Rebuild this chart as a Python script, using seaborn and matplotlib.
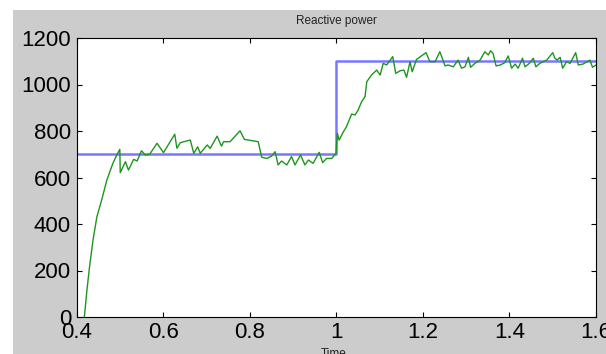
import numpy as np
import pandas as pd
import matplotlib
matplotlib.use("Agg")
import matplotlib.pyplot as plt
import seaborn as sns
from matplotlib.patches import Rectangle

# ---- data ----
ref_time = [0.4, 1.0, 1.0, 1.6]
ref_value = [700, 700, 1100, 1100]

meas_time = [
    0.417, 0.423, 0.429, 0.437, 0.446, 0.458, 0.469, 0.483, 0.492, 0.499,
    0.500, 0.512, 0.519, 0.531, 0.539, 0.549, 0.558, 0.568, 0.585, 0.600,
    0.626, 0.631, 0.639, 0.662, 0.670, 0.679, 0.685, 0.701, 0.708, 0.724,
    0.734, 0.739, 0.754, 0.777, 0.787, 0.819, 0.827, 0.839, 0.850, 0.858,
    0.865, 0.873, 0.885, 0.896, 0.904, 0.917, 0.927, 0.935, 0.946, 0.960,
    0.968, 0.977, 0.989, 0.999, 1.002, 1.006, 1.016, 1.023, 1.035, 1.043,
    1.050, 1.058, 1.066, 1.070, 1.081, 1.093, 1.101, 1.108, 1.116, 1.130,
    1.137, 1.147, 1.156, 1.162, 1.170, 1.175, 1.185, 1.207, 1.216, 1.228,
    1.239, 1.251, 1.258, 1.270, 1.281, 1.289, 1.297, 1.305, 1.310, 1.320,
    1.332, 1.343, 1.351, 1.356, 1.362, 1.369, 1.379, 1.389, 1.397, 1.405,
    1.413, 1.420, 1.430, 1.436, 1.446, 1.455, 1.461, 1.470, 1.486, 1.500,
    1.505, 1.510, 1.517, 1.523, 1.532, 1.540, 1.553, 1.559, 1.570, 1.586,
    1.592, 1.600,
]
meas_value = [
    0, 116, 216, 331, 431, 510, 589, 661, 697, 721,
    621, 668, 632, 678, 671, 715, 697, 700, 747, 707,
    786, 726, 750, 761, 704, 732, 704, 740, 725, 778,
    735, 754, 754, 801, 764, 754, 687, 682, 692, 711,
    654, 671, 654, 690, 654, 697, 654, 675, 661, 708,
    664, 682, 682, 704, 790, 761, 797, 818, 873, 869,
    890, 926, 948, 1012, 1041, 1062, 1041, 1091, 1084, 1120,
    1048, 1059, 1062, 1031, 1098, 1055, 1108, 1137, 1098, 1098,
    1141, 1080, 1084, 1076, 1105, 1070, 1076, 1117, 1074, 1091,
    1105, 1141, 1127, 1145, 1134, 1080, 1084, 1094, 1123, 1070,
    1088, 1070, 1113, 1076, 1091, 1113, 1076, 1091, 1105, 1137,
    1113, 1105, 1117, 1070, 1098, 1091, 1137, 1084, 1088, 1105,
    1074, 1084,
]

x_ticks = [0.4, 0.6, 0.8, 1.0, 1.2, 1.4, 1.6]
x_tick_labels = ["0.4", "0.6", "0.8", "1", "1.2", "1.4", "1.6"]
y_ticks = [0, 200, 400, 600, 800, 1000, 1200]
y_tick_labels = ["0", "200", "400", "600", "800", "1000", "1200"]

title_text = "Reactive power"
xlabel_text = "Time"

# ---- figure ----
plt.rcParams["font.family"] = ["Liberation Sans", "DejaVu Sans"]

W, H = 606, 354
fig = plt.figure(figsize=(W / 100, H / 100), dpi=100, facecolor="white")
fig.patches.append(Rectangle((13 / W, 0), 1 - 13 / W, 1 - 10 / H,
                             transform=fig.transFigure, facecolor="#cccccc",
                             edgecolor="none", zorder=-10))

ax = fig.add_axes([77 / W, 1 - 317 / H, (596 - 77) / W, (317 - 38) / H])
ax.set_facecolor("white")

ref_df = pd.DataFrame({"t": ref_time, "v": ref_value})
meas_df = pd.DataFrame({"t": meas_time, "v": meas_value})

sns.lineplot(data=ref_df, x="t", y="v", ax=ax, sort=False, estimator=None,
             color="#7878ff", linewidth=1.8)
sns.lineplot(data=meas_df, x="t", y="v", ax=ax, sort=False, estimator=None,
             color="#1e951e", linewidth=1.0)

ax.set_xlim(0.4, 1.6)
ax.set_ylim(0, 1200)
ax.set_xticks(x_ticks)
ax.set_xticklabels(x_tick_labels)
ax.set_yticks(y_ticks)
ax.set_yticklabels(y_tick_labels)
ax.set_xlabel("")
ax.set_ylabel("")

ax.tick_params(axis="both", which="major", direction="in", length=3.6,
               width=0.8, labelsize=16, colors="black",
               top=True, right=True)
ax.tick_params(axis="x", pad=3.5)
ax.tick_params(axis="y", pad=4.3)
for s in ax.spines.values():
    s.set_linewidth(0.8)
    s.set_color("black")
    s.set_visible(True)

fig.text(336.5 / W, 1 - 24 / H, title_text, ha="center", va="baseline",
         fontsize=8.5, color="#222222")
fig.text(334 / W, 1 - 357 / H, xlabel_text, ha="center", va="baseline",
         fontsize=8.5, color="#222222")

fig.savefig("out.png", dpi=100, facecolor=fig.get_facecolor())
